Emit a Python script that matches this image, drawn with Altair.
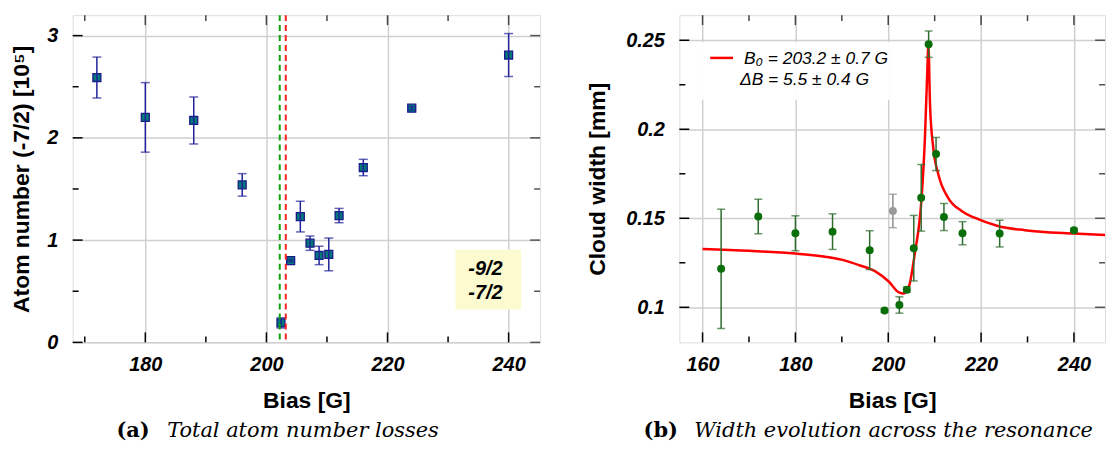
import altair as alt
import pandas as pd

# ---------------- Panel (a): total atom number ----------------
a_bias = [172, 180, 188, 196, 202.4, 204, 205.6, 207.2, 208.7, 210.3, 212, 216, 224, 240]
a_atoms = [2.59, 2.20, 2.17, 1.54, 0.19, 0.80, 1.23, 0.97, 0.85, 0.86, 1.24, 1.71, 2.29, 2.81]
a_err = [0.20, 0.34, 0.23, 0.11, 0.05, 0.01, 0.15, 0.07, 0.09, 0.16, 0.07, 0.08, 0.015, 0.21]
a_res_green = [202.2]
a_res_red = [203.2]
a_legend = ["-9/2", "-7/2"]
a_x_major = [180, 200, 220, 240]
a_x_minor = [170, 190, 210, 230]
a_y_major = [0, 1, 2, 3]
a_y_minor = [0.5, 1.5, 2.5]

# ---------------- Panel (b): cloud width ----------------
b_bias = [164, 172, 180, 188, 196, 199.2, 202.4, 204, 205.5, 207.1, 208.7, 210.3, 212, 216, 224, 240]
b_width = [0.1216, 0.1510, 0.1416, 0.1425, 0.1321, 0.0982, 0.1013, 0.1099, 0.1332, 0.1615,
           0.2478, 0.1861, 0.1507, 0.1416, 0.1414, 0.1433]
b_err = [0.0335, 0.0097, 0.0098, 0.0100, 0.0109, 0.0010, 0.0046, 0.0015, 0.0184, 0.0187,
         0.0074, 0.0093, 0.0076, 0.0065, 0.0075, 0.0010]
b_out_bias = [201]
b_out_width = [0.1541]
b_out_err = [0.0094]
fit_bias = [160, 170, 180, 186.7, 190.9, 193.7, 197.3, 200.1, 202.3, 203.3, 204.4, 205.7, 207.2,
            207.9, 208.4, 208.65, 209.0, 209.7, 210.8, 212.9, 215.8, 218.6, 223.6, 229.4, 240, 246.7]
fit_width = [0.1327, 0.1317, 0.1302, 0.1283, 0.1261, 0.1237, 0.1200, 0.1145, 0.1084, 0.1078, 0.1112,
             0.1299, 0.1620, 0.1950, 0.2318, 0.2473, 0.2138, 0.1895, 0.1746, 0.1615, 0.1541, 0.1503,
             0.1457, 0.1433, 0.1414, 0.1406]
b_legend = ["B\u2080 = 203.2 \u00b1 0.7 G", "\u0394B = 5.5 \u00b1 0.4 G"]
b_x_major = [160, 180, 200, 220, 240]
b_x_minor = [170, 190, 210, 230]
b_y_major = [0.1, 0.15, 0.2, 0.25]
b_y_minor = [0.125, 0.175, 0.225]

cap_a = ["(a)", "Total atom number losses"]
cap_b = ["(b)", "Width evolution across the resonance"]

SANS = "Liberation Sans"
SERIF = "DejaVu Serif"
W1, H1 = 470, 329
W2, H2 = 428, 329
MAJ, MIN = 10, 6


def x_axis(values):
    return alt.Axis(values=values, grid=True, gridColor="#cfcfcf", gridWidth=1.5, ticks=False,
                    tickSize=0, domain=False, labelFont=SANS, labelFontSize=20, labelFontWeight="bold",
                    labelFontStyle="italic", labelColor="black", labelPadding=12, format="d",
                    labelFlush=False, title="Bias [G]", titleFont=SANS, titleFontSize=23,
                    titleFontWeight="bold", titleColor="black", titlePadding=15)


def y_axis(values, fmt, title, tpad):
    return alt.Axis(values=values, grid=True, gridColor="#cfcfcf", gridWidth=1.5, ticks=False,
                    domain=False, tickSize=0, labelFont=SANS, labelFontSize=20, labelFontWeight="bold",
                    labelFontStyle="italic", labelColor="black", labelPadding=15, format=fmt,
                    title=title, titleFont=SANS, titleFontSize=23, titleFontWeight="bold",
                    titleColor="black", titlePadding=tpad)


def tick_layers(xs, ys, xmaj, xmin, ymaj, ymin, W, H):
    layers = []
    for vals, ln in ((xmaj, MAJ), (xmin, MIN)):
        base = alt.Chart(pd.DataFrame({"v": vals})).mark_rule(strokeWidth=1.5)
        layers.append(base.encode(x=alt.X("v:Q", scale=xs), y=alt.value(H),
                                  y2=alt.value(H - ln), color=alt.value("black")))
        layers.append(base.encode(x=alt.X("v:Q", scale=xs), y=alt.value(0),
                                  y2=alt.value(ln), color=alt.value("#444444")))
    for vals, ln in ((ymaj, MAJ), (ymin, MIN)):
        base = alt.Chart(pd.DataFrame({"v": vals})).mark_rule(strokeWidth=1.5)
        layers.append(base.encode(y=alt.Y("v:Q", scale=ys), x=alt.value(0),
                                  x2=alt.value(ln), color=alt.value("black")))
        layers.append(base.encode(y=alt.Y("v:Q", scale=ys), x=alt.value(W),
                                  x2=alt.value(W - ln), color=alt.value("#555555")))
    return layers


def text_layer(s, x, y, size, font=SANS, weight="normal", style="normal", align="left"):
    return alt.Chart(pd.DataFrame({"t": [s]})).mark_text(
        font=font, fontSize=size, fontWeight=weight, fontStyle=style, align=align,
        baseline="middle", color="black").encode(text="t:N", x=alt.value(x), y=alt.value(y))


def caption(parts, x_bold, x_text, y):
    return [text_layer(parts[0], x_bold, y, 21, font=SERIF, weight="bold"),
            text_layer(parts[1], x_text, y, 21, font=SERIF, style="italic")]


def errbars(df, ycol_lo, ycol_hi, color, xs, ys, cap):
    r = alt.Chart(df).mark_rule(color=color, strokeWidth=1.5).encode(
        x=alt.X("bias:Q", scale=xs), y=alt.Y(f"{ycol_lo}:Q", scale=ys), y2=f"{ycol_hi}:Q")
    t1 = alt.Chart(df).mark_tick(orient="horizontal", size=cap, thickness=1.5, color=color).encode(
        x=alt.X("bias:Q", scale=xs), y=alt.Y(f"{ycol_lo}:Q", scale=ys))
    t2 = alt.Chart(df).mark_tick(orient="horizontal", size=cap, thickness=1.5, color=color).encode(
        x=alt.X("bias:Q", scale=xs), y=alt.Y(f"{ycol_hi}:Q", scale=ys))
    return [r, t1, t2]


# ---------------- build panel (a) ----------------
xs1 = alt.Scale(domain=[168, 245.2], nice=False, zero=False)
ys1 = alt.Scale(domain=[0, 3.2], nice=False, zero=False)
dfa = pd.DataFrame({"bias": a_bias, "atoms": a_atoms, "err": a_err})
dfa["lo"] = dfa["atoms"] - dfa["err"]
dfa["hi"] = dfa["atoms"] + dfa["err"]

sq = alt.Chart(dfa).mark_square(size=64, fill="#007878", stroke="#1a1a8a", strokeWidth=1.3,
                                opacity=1).encode(
    x=alt.X("bias:Q", scale=xs1, axis=x_axis(a_x_major)),
    y=alt.Y("atoms:Q", scale=ys1, axis=y_axis(a_y_major, "d", "Atom number (-7/2) [10\u2075]", 13)))
vg = alt.Chart(pd.DataFrame({"v": a_res_green})).mark_rule(
    color="#10a010", strokeWidth=2, strokeDash=[6, 4]).encode(x=alt.X("v:Q", scale=xs1))
vr = alt.Chart(pd.DataFrame({"v": a_res_red})).mark_rule(
    color="#ff2020", strokeWidth=2, strokeDash=[6, 4]).encode(x=alt.X("v:Q", scale=xs1))
leg_box_a = alt.Chart(pd.DataFrame({"k": [0]})).mark_rect(fill="#fbfbcf").encode(
    x=alt.value(385), x2=alt.value(451), y=alt.value(236), y2=alt.value(296))

left = alt.layer(
    sq, *errbars(dfa, "lo", "hi", "#22229a", xs1, ys1, 9), vg, vr,
    *tick_layers(xs1, ys1, a_x_major, a_x_minor, a_y_major, a_y_minor, W1, H1),
    leg_box_a,
    text_layer(a_legend[0], 415, 255, 20, weight="bold", style="italic", align="center"),
    text_layer(a_legend[1], 415, 279, 20, weight="bold", style="italic", align="center"),
    *caption(cap_a, 44, 95, 418),
).properties(width=W1, height=H1)

# ---------------- build panel (b) ----------------
xs2 = alt.Scale(domain=[155, 246.7], nice=False, zero=False)
ys2 = alt.Scale(domain=[0.0803, 0.2641], nice=False, zero=False)
dfb = pd.DataFrame({"bias": b_bias, "w": b_width, "err": b_err})
dfb["lo"] = dfb["w"] - dfb["err"]
dfb["hi"] = dfb["w"] + dfb["err"]
dfo = pd.DataFrame({"bias": b_out_bias, "w": b_out_width, "err": b_out_err})
dfo["lo"] = dfo["w"] - dfo["err"]
dfo["hi"] = dfo["w"] + dfo["err"]
dff = pd.DataFrame({"bias": fit_bias, "w": fit_width})

GREEN_E = "#2e6b2e"
GREEN_P = "#0a6e0a"

fit_line = alt.Chart(dff).mark_line(color="#ff0000", strokeWidth=2.5, interpolate="monotone").encode(
    x=alt.X("bias:Q", scale=xs2, axis=x_axis(b_x_major)),
    y=alt.Y("w:Q", scale=ys2, axis=y_axis(b_y_major, "~g", "Cloud width [mm]", 16)))
pts_o = alt.Chart(dfo).mark_point(filled=True, shape="circle", size=64, color="#999999", opacity=1).encode(
    x=alt.X("bias:Q", scale=xs2), y=alt.Y("w:Q", scale=ys2))
pts_b = alt.Chart(dfb).mark_point(filled=True, shape="circle", size=64, color=GREEN_P, opacity=1).encode(
    x=alt.X("bias:Q", scale=xs2), y=alt.Y("w:Q", scale=ys2))
leg_box_b = alt.Chart(pd.DataFrame({"k": [0]})).mark_rect(fill="white", opacity=0.95).encode(
    x=alt.value(15), x2=alt.value(230), y=alt.value(27), y2=alt.value(85))
leg_line_b = alt.Chart(pd.DataFrame({"k": [0]})).mark_rule(color="#ff0000", strokeWidth=2.5).encode(
    x=alt.value(31), x2=alt.value(54), y=alt.value(43))

right = alt.layer(
    fit_line,
    *errbars(dfo, "lo", "hi", "#8c8c8c", xs2, ys2, 8), pts_o,
    *errbars(dfb, "lo", "hi", GREEN_E, xs2, ys2, 8), pts_b,
    *tick_layers(xs2, ys2, b_x_major, b_x_minor, b_y_major, b_y_minor, W2, H2),
    leg_box_b, leg_line_b,
    text_layer(b_legend[0], 65, 44, 17.5, style="italic"),
    text_layer(b_legend[1], 61, 65, 17.5, style="italic"),
    *caption(cap_b, -36, 15, 418),
).properties(width=W2, height=H2)

chart = alt.hconcat(left, right, spacing=140, bounds="flush").properties(
    padding={"left": 2, "top": 4, "right": 0, "bottom": 0}
).configure_view(stroke="black", strokeWidth=1.5).configure(background="white")

chart.save("out.html", embed_options={"renderer": "svg", "actions": False})
